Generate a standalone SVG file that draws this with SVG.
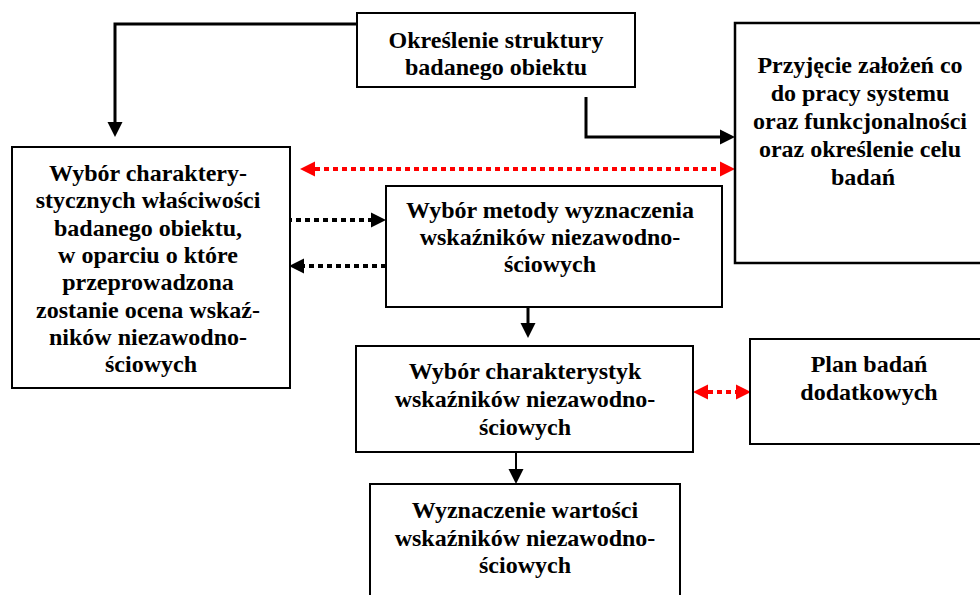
<svg xmlns="http://www.w3.org/2000/svg" width="980" height="595" viewBox="0 0 980 595">
  <style>
    .box { fill: #fff; stroke: #000; stroke-width: 2; }
    .lbl { font-family: "Liberation Serif", "Times New Roman", serif; font-weight: bold; font-size: 24px; fill: #000; text-anchor: middle; }
    .solid { fill: none; stroke: #000; stroke-width: 3; }
    .thin { fill: none; stroke: #000; stroke-width: 2; }
    .dotk { fill: none; stroke: #000; stroke-width: 4; stroke-dasharray: 5 4; }
    .dotr { fill: none; stroke: #ff0000; stroke-width: 4; stroke-dasharray: 5 4; }
  </style>
  <defs>
    <marker id="ak" markerUnits="userSpaceOnUse" markerWidth="16" markerHeight="16" refX="0" refY="7.5" orient="auto-start-reverse" overflow="visible">
      <path d="M0,0 L15,7.5 L0,15 z" fill="#000"/>
    </marker>
    <marker id="ar" markerUnits="userSpaceOnUse" markerWidth="16" markerHeight="16" refX="0" refY="7.5" orient="auto-start-reverse" overflow="visible">
      <path d="M0,0 L15,7.5 L0,15 z" fill="#ff0000"/>
    </marker>
  </defs>

  <g id="connectors">
    <path class="solid" d="M357,24 H115 V122" marker-end="url(#ak)"/>
    <path class="solid" d="M586,97 V137 H720" marker-end="url(#ak)"/>
    <path class="dotr" d="M315,169 H720" marker-start="url(#ar)" marker-end="url(#ar)"/>
    <path class="dotk" d="M287,220 H371" marker-end="url(#ak)"/>
    <path class="dotk" d="M386,266 H304" marker-end="url(#ak)"/>
    <path class="solid" d="M528,307 V323" marker-end="url(#ak)"/>
    <path class="thin" d="M516,452 V469" marker-end="url(#ak)"/>
    <path class="dotr" d="M708,392 H736" marker-start="url(#ar)" marker-end="url(#ar)"/>
  </g>

  <g id="n1">
    <rect class="box" x="357" y="13" width="278" height="74"/>
    <text class="lbl"><tspan x="496" y="48">Określenie struktury</tspan><tspan x="496" y="75">badanego obiektu</tspan></text>
  </g>

  <g id="n2">
    <rect class="box" x="12" y="147" width="278" height="241"/>
    <text class="lbl">
      <tspan x="151" y="181">Wybór charaktery-</tspan>
      <tspan x="151" y="208.3">stycznych właściwości</tspan>
      <tspan x="151" y="235.6">badanego obiektu,</tspan>
      <tspan x="151" y="262.9">w oparciu o które</tspan>
      <tspan x="151" y="290.2">przeprowadzona</tspan>
      <tspan x="151" y="317.5">zostanie ocena wskaź-</tspan>
      <tspan x="151" y="344.8">ników niezawodno-</tspan>
      <tspan x="151" y="372.1">ściowych</tspan>
    </text>
  </g>

  <g id="n3">
    <rect class="box" x="386" y="186" width="336" height="121"/>
    <text class="lbl"><tspan x="550" y="218">Wybór metody wyznaczenia</tspan><tspan x="550" y="245">wskaźników niezawodno-</tspan><tspan x="550" y="272">ściowych</tspan></text>
  </g>

  <g id="n4">
    <rect class="box" x="735" y="23" width="256" height="240" style="stroke-width:2.5"/>
    <text class="lbl">
      <tspan x="863" y="73">Przyjęcie założeń co</tspan>
      <tspan x="863" y="101">do pracy systemu</tspan>
      <tspan x="863" y="129">oraz funkcjonalności</tspan>
      <tspan x="863" y="157">oraz określenie celu</tspan>
      <tspan x="863" y="185">badań</tspan>
    </text>
  </g>

  <g id="n5">
    <rect class="box" x="356" y="346" width="337" height="106"/>
    <text class="lbl"><tspan x="525" y="379">Wybór charakterystyk</tspan><tspan x="525" y="407">wskaźników niezawodno-</tspan><tspan x="525" y="435">ściowych</tspan></text>
  </g>

  <g id="n6">
    <rect class="box" x="750" y="339" width="238" height="105"/>
    <text class="lbl"><tspan x="869" y="372">Plan badań</tspan><tspan x="869" y="400">dodatkowych</tspan></text>
  </g>

  <g id="n7">
    <rect class="box" x="370" y="484" width="310" height="130"/>
    <text class="lbl"><tspan x="525" y="518">Wyznaczenie wartości</tspan><tspan x="525" y="546">wskaźników niezawodno-</tspan><tspan x="525" y="573">ściowych</tspan></text>
  </g>
</svg>
